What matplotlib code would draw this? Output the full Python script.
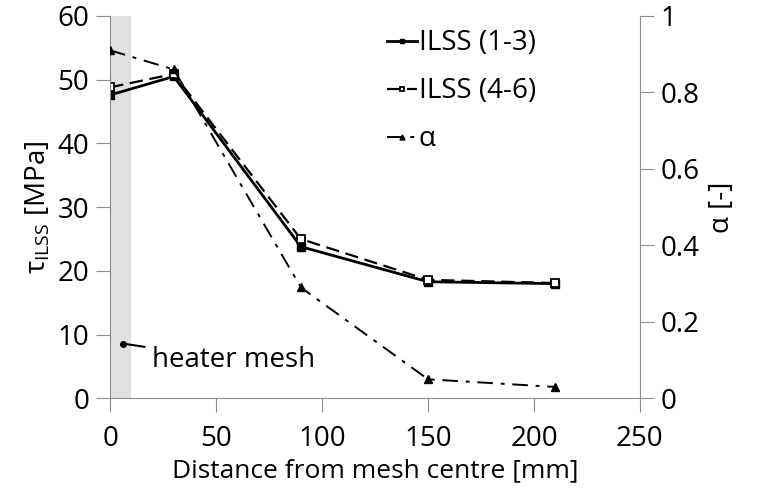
import matplotlib.pyplot as plt

plt.rcParams['font.family'] = ['Open Sans', 'DejaVu Sans']
plt.rcParams['mathtext.fontset'] = 'custom'
plt.rcParams['mathtext.rm'] = 'Open Sans'

distance = [0, 30, 90, 150, 210]
ilss_13 = [47.6, 50.5, 23.8, 18.3, 18.0]
ilss_46 = [48.8, 50.9, 25.0, 18.6, 18.1]
alpha = [0.91, 0.86, 0.29, 0.05, 0.03]

grey = '#8c8c8c'
fs = 19

fig, ax = plt.subplots(figsize=(7.6, 4.98), dpi=100)
fig.subplots_adjust(left=0.145, right=0.842, top=0.968, bottom=0.2)
ax2 = ax.twinx()

ax.axvspan(0, 10, color='#e0e0e0', zorder=0, lw=0)

l1, = ax.plot(distance, ilss_13, '-', color='black', lw=2, marker='s', ms=6,
              label='ILSS (1-3)')
l2, = ax.plot(distance, ilss_46, '--', color='black', lw=1.6, marker='s', ms=6,
              mfc='white', mew=1.3, label='ILSS (4-6)', dashes=(6, 3))
l3, = ax2.plot(distance, alpha, color='black', lw=1.4, marker='^', ms=6,
               dashes=(8, 4, 2, 4), label='α')

ax.set_xlim(0, 250)
ax.set_ylim(0, 60)
ax2.set_ylim(0, 1)
ax.set_xticks([0, 50, 100, 150, 200, 250])
ax.set_yticks(range(0, 61, 10))
ax2.set_yticks([0, 0.2, 0.4, 0.6, 0.8, 1])
ax2.set_yticklabels(['0', '0.2', '0.4', '0.6', '0.8', '1'])

for a in (ax, ax2):
    a.spines['top'].set_visible(False)
    for s in ('left', 'right', 'bottom'):
        a.spines[s].set_color(grey)
    a.tick_params(direction='out', length=10, color=grey, labelsize=20, pad=5)
ax.tick_params(axis='x', pad=9)
ax.spines['right'].set_visible(False)
ax2.spines['left'].set_visible(False)
ax2.spines['bottom'].set_visible(False)

ax.set_xlabel('Distance from mesh centre [mm]', fontsize=fs, labelpad=4)
ax.set_ylabel(r'τ$_{\mathrm{ILSS}}$ [MPa]', fontsize=20, labelpad=4)
ax2.set_ylabel('α [-]', fontsize=20, labelpad=6)

ax.annotate('heater mesh', xy=(6, 8.6), xytext=(19.5, 6.0), fontsize=20,
            va='center', ha='left',
            arrowprops=dict(arrowstyle='-', color='black', lw=1.5,
                            shrinkA=3, shrinkB=0))
ax.plot([6], [8.6], 'o', color='black', ms=4)

ax.legend(handles=[l1, l2, l3], loc='upper left', bbox_to_anchor=(0.475, 1.03),
          frameon=False, fontsize=20, handlelength=1.1, handletextpad=0.05,
          labelspacing=0.72, markerscale=0.6)

plt.savefig('out.png')
